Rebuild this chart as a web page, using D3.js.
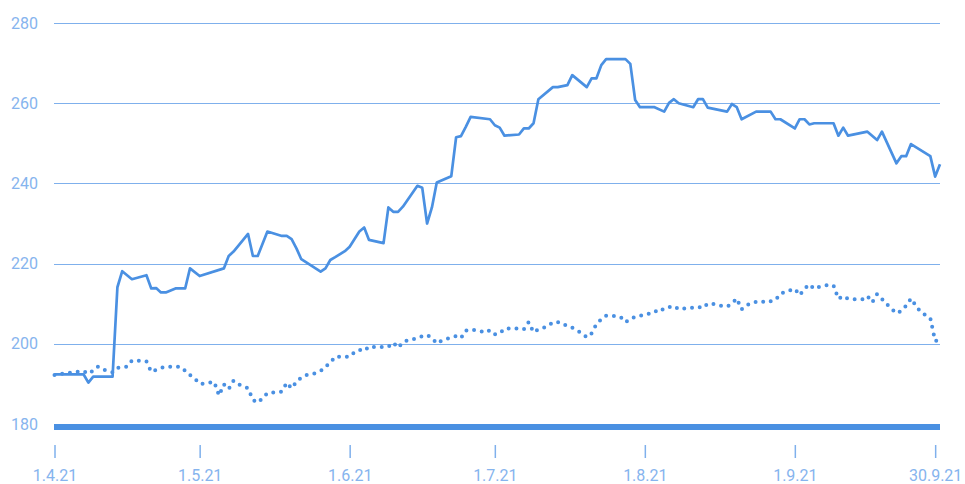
<!DOCTYPE html>
<html>
<head>
<meta charset="utf-8">
<script src="https://cdn.jsdelivr.net/npm/d3@7"></script>
<style>
  html, body { margin: 0; padding: 0; background: #fff; }
  svg { display: block; }
  text { font-family: Roboto, "DejaVu Sans", sans-serif; }
</style>
</head>
<body>
<svg id="chart" width="965" height="484"></svg>
<script>
// ---- data ----
const solidDates = ["2021-04-01","2021-04-07","2021-04-08","2021-04-09","2021-04-13","2021-04-14","2021-04-15","2021-04-17","2021-04-20","2021-04-21","2021-04-22","2021-04-23","2021-04-24","2021-04-26","2021-04-28","2021-04-29","2021-05-01","2021-05-06","2021-05-07","2021-05-08","2021-05-11","2021-05-12","2021-05-13","2021-05-15","2021-05-18","2021-05-19","2021-05-20","2021-05-21","2021-05-22","2021-05-26","2021-05-27","2021-05-28","2021-05-29","2021-05-31","2021-06-01","2021-06-03","2021-06-04","2021-06-05","2021-06-08","2021-06-09","2021-06-10","2021-06-11","2021-06-12","2021-06-15","2021-06-16","2021-06-17","2021-06-18","2021-06-19","2021-06-22","2021-06-23","2021-06-24","2021-06-25","2021-06-26","2021-06-30","2021-07-01","2021-07-02","2021-07-03","2021-07-06","2021-07-07","2021-07-08","2021-07-09","2021-07-10","2021-07-13","2021-07-14","2021-07-16","2021-07-17","2021-07-20","2021-07-21","2021-07-22","2021-07-23","2021-07-24","2021-07-28","2021-07-29","2021-07-30","2021-07-31","2021-08-03","2021-08-05","2021-08-06","2021-08-07","2021-08-08","2021-08-11","2021-08-12","2021-08-13","2021-08-14","2021-08-18","2021-08-19","2021-08-20","2021-08-21","2021-08-24","2021-08-27","2021-08-28","2021-08-29","2021-09-01","2021-09-02","2021-09-03","2021-09-04","2021-09-05","2021-09-09","2021-09-10","2021-09-11","2021-09-12","2021-09-16","2021-09-18","2021-09-19","2021-09-22","2021-09-23","2021-09-24","2021-09-25","2021-09-29","2021-09-30","2021-10-01"];
const solidValues = [192.4,192.4,190.3,191.8,191.8,214.1,218.1,216.1,217.1,213.8,213.9,212.8,212.8,213.8,213.8,218.8,216.9,218.8,221.9,223.0,227.4,221.9,221.9,228.0,226.9,226.9,226.1,223.8,221.1,218.0,218.8,220.9,221.6,223.1,224.2,228.0,229.0,225.9,225.1,234.0,232.9,232.9,234.2,239.4,238.9,230.0,234.0,240.2,241.8,251.5,251.8,254.1,256.6,256.0,254.5,253.9,251.9,252.2,253.7,253.7,255.0,261.0,264.0,264.0,264.5,267.0,264.0,266.2,266.2,269.5,271.0,271.0,269.8,260.8,259.0,259.0,257.9,260.1,261.0,260.0,259.0,261.0,261.0,258.9,257.9,259.8,259.0,256.0,257.9,257.9,256.0,256.0,253.7,256.0,256.0,254.7,255.0,255.0,251.9,253.9,251.9,252.9,250.8,252.9,245.0,246.8,246.8,249.8,246.8,241.7,244.8];

const dottedDates = ["2021-04-01","2021-04-03","2021-04-05","2021-04-07","2021-04-08","2021-04-09","2021-04-10","2021-04-11","2021-04-13","2021-04-14","2021-04-16","2021-04-17","2021-04-18","2021-04-20","2021-04-21","2021-04-22","2021-04-23","2021-04-24","2021-04-25","2021-04-27","2021-04-28","2021-04-29","2021-04-30","2021-05-01","2021-05-02","2021-05-04","2021-05-05","2021-05-06","2021-05-07","2021-05-08","2021-05-09","2021-05-11","2021-05-12","2021-05-13","2021-05-14","2021-05-15","2021-05-16","2021-05-18","2021-05-19","2021-05-20","2021-05-21","2021-05-22","2021-05-23","2021-05-25","2021-05-26","2021-05-27","2021-05-28","2021-05-29","2021-05-30","2021-06-01","2021-06-02","2021-06-03","2021-06-04","2021-06-05","2021-06-06","2021-06-08","2021-06-09","2021-06-10","2021-06-11","2021-06-12","2021-06-13","2021-06-15","2021-06-16","2021-06-17","2021-06-18","2021-06-19","2021-06-20","2021-06-22","2021-06-23","2021-06-24","2021-06-25","2021-06-26","2021-06-28","2021-06-29","2021-06-30","2021-07-01","2021-07-02","2021-07-03","2021-07-05","2021-07-06","2021-07-07","2021-07-08","2021-07-09","2021-07-10","2021-07-12","2021-07-13","2021-07-14","2021-07-15","2021-07-16","2021-07-17","2021-07-19","2021-07-20","2021-07-21","2021-07-22","2021-07-23","2021-07-24","2021-07-26","2021-07-27","2021-07-28","2021-07-29","2021-07-30","2021-08-01","2021-08-02","2021-08-03","2021-08-04","2021-08-05","2021-08-07","2021-08-08","2021-08-09","2021-08-11","2021-08-12","2021-08-13","2021-08-14","2021-08-15","2021-08-16","2021-08-18","2021-08-19","2021-08-20","2021-08-21","2021-08-22","2021-08-23","2021-08-25","2021-08-26","2021-08-27","2021-08-28","2021-08-29","2021-08-30","2021-09-01","2021-09-02","2021-09-03","2021-09-04","2021-09-05","2021-09-06","2021-09-08","2021-09-09","2021-09-10","2021-09-11","2021-09-12","2021-09-13","2021-09-15","2021-09-16","2021-09-17","2021-09-18","2021-09-19","2021-09-20","2021-09-21","2021-09-22","2021-09-23","2021-09-24","2021-09-25","2021-09-26","2021-09-27","2021-09-29","2021-09-30","2021-10-01"];
const dottedValues = [192.2,192.6,192.9,193.2,192.5,193.3,194.3,193.6,192.9,194.0,194.3,195.8,195.8,195.6,193.0,193.5,194.0,194.3,194.3,194.3,193.3,192.2,191.3,190.0,190.1,190.5,187.1,189.9,188.7,190.8,189.9,188.9,186.0,185.3,186.4,187.7,187.8,188.1,190.3,188.9,190.5,191.6,192.2,192.7,193.2,194.3,195.3,196.8,196.8,196.8,197.9,198.5,198.2,199.3,199.2,199.2,199.3,200.3,199.0,200.3,200.9,201.4,201.9,202.2,201.5,200.1,200.8,201.6,201.9,201.4,203.3,203.6,203.2,202.8,203.4,202.4,202.6,203.8,203.8,203.8,203.6,205.4,202.9,203.6,204.4,205.4,205.4,205.1,204.3,204.0,202.6,201.6,202.6,204.9,206.1,207.0,206.9,206.7,205.4,206.1,206.8,207.2,207.6,208.2,207.9,208.9,209.4,208.6,208.8,209.0,209.2,208.9,210.0,210.0,209.6,209.3,210.0,211.3,208.6,209.6,210.2,210.7,210.3,210.6,210.9,212.4,213.0,213.7,212.1,213.7,214.8,213.7,214.2,214.7,214.5,211.2,211.9,211.2,211.1,211.1,211.9,210.3,212.4,211.2,209.9,208.7,207.6,208.2,209.5,211.3,209.5,207.9,206.4,200.7,201.0];

const yTicks = [180, 200, 220, 240, 260, 280];
const xTickDates = ["2021-04-01","2021-05-01","2021-06-01","2021-07-01","2021-08-01","2021-09-01","2021-09-30"];
const xTickLabels = ["1.4.21","1.5.21","1.6.21","1.7.21","1.8.21","1.9.21","30.9.21"];

// ---- chart ----
const parse = d3.utcParse("%Y-%m-%d");
const solid = solidDates.map((d, i) => ({ date: parse(d), value: solidValues[i] }));
const dotted = dottedDates.map((d, i) => ({ date: parse(d), value: dottedValues[i] }));

const svg = d3.select("#chart");
const lineColor = "#4a90e2";
const gridColor = "#7fb0ec";
const textColor = "#86b4ee";

const x = d3.scaleUtc().domain([parse("2021-04-01"), parse("2021-10-01")]).range([54.5, 940]);
const y = d3.scaleLinear().domain([180, 280]).range([424, 23]);

// grid lines
svg.append("g").selectAll("line")
  .data(yTicks.filter(t => t !== 180))
  .join("line")
  .attr("x1", 54).attr("x2", 940)
  .attr("y1", d => Math.round(y(d)) + 0.5)
  .attr("y2", d => Math.round(y(d)) + 0.5)
  .attr("stroke", gridColor)
  .attr("stroke-width", 1.2);

// thick baseline at 180
svg.append("rect")
  .attr("x", 54).attr("width", 886)
  .attr("y", y(180)).attr("height", 6)
  .attr("fill", lineColor);

// y axis labels
const yAxis = svg.append("g")
  .attr("transform", "translate(38,0)")
  .call(d3.axisLeft(y).tickValues(yTicks).tickSize(0).tickPadding(0));
yAxis.select(".domain").remove();
yAxis.selectAll("text")
  .attr("fill", textColor)
  .attr("font-size", 16)
  .attr("font-family", "Roboto, sans-serif");

// x axis
const xAxis = svg.append("g")
  .attr("transform", "translate(0,445)")
  .call(d3.axisBottom(x)
    .tickValues(xTickDates.map(parse))
    .tickFormat((d, i) => xTickLabels[i])
    .tickSize(13)
    .tickPadding(12));
xAxis.select(".domain").remove();
xAxis.selectAll(".tick line").attr("stroke", gridColor).attr("stroke-width", 1.5);
xAxis.selectAll("text")
  .attr("fill", textColor)
  .attr("font-size", 16)
  .attr("font-family", "Roboto, sans-serif");

// lines
const line = d3.line().x(d => x(d.date)).y(d => y(d.value));

svg.append("path")
  .datum(dotted)
  .attr("fill", "none")
  .attr("stroke", lineColor)
  .attr("stroke-width", 4)
  .attr("stroke-linecap", "round")
  .attr("stroke-linejoin", "round")
  .attr("stroke-dasharray", "0 7.8")
  .attr("d", line);

svg.append("path")
  .datum(solid)
  .attr("fill", "none")
  .attr("stroke", lineColor)
  .attr("stroke-width", 2.7)
  .attr("stroke-linejoin", "round")
  .attr("d", line);
</script>
</body>
</html>
